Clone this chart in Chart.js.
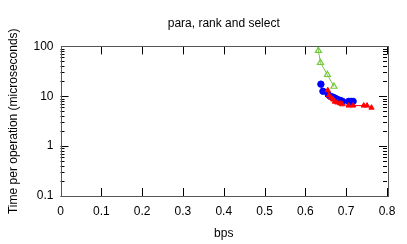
<!DOCTYPE html>
<html>
<head>
<meta charset="utf-8">
<script src="https://cdn.jsdelivr.net/npm/chart.js@4"></script>
<style>
  html, body { margin: 0; padding: 0; background: #fff; }
  #wrap { width: 407px; height: 244px; }
</style>
</head>
<body>
<div id="wrap"><canvas id="chart" width="407" height="244"></canvas></div>
<script>
// values
const xTicks = [0, 0.1, 0.2, 0.3, 0.4, 0.5, 0.6, 0.7, 0.8];
const yTicks = [0.1, 1, 10, 100];

const greenX = [0.629, 0.632, 0.637, 0.654, 0.670];
const greenY = [140, 82, 47, 27, 15.7];

const blueX = [0.638, 0.643, 0.656, 0.661, 0.666, 0.670, 0.674, 0.677, 0.682, 0.686, 0.691, 0.706, 0.712, 0.717];
const blueY = [17.5, 12.6, 10.8, 10.0, 9.7, 9.4, 9.0, 8.7, 8.4, 8.2, 7.9, 7.9, 7.9, 7.9];

const redX = [0.655, 0.658, 0.663, 0.668, 0.672, 0.678, 0.685, 0.690, 0.706, 0.717, 0.743, 0.751, 0.762];
const redY = [13.2, 10.4, 9.4, 8.6, 7.8, 7.5, 7.2, 6.9, 6.5, 6.5, 6.5, 6.5, 5.9];

const font = { family: "'Liberation Sans', Arial, sans-serif", size: 12 };

function toPoints(xs, ys) {
  return xs.map((x, i) => ({ x: x, y: ys[i] }));
}

// gnuplot style frame with inward ticks, title centred over the plot
const frame = {
  id: "frame",
  afterLayout(chart) {
    const t = chart.titleBlock;
    if (t) {
      t.left = chart.chartArea.left;
      t.right = chart.chartArea.right;
      t.width = t.right - t.left;
    }
  },
  afterDatasetsDraw(chart) {
    const { ctx, chartArea: a, scales } = chart;
    ctx.save();
    ctx.strokeStyle = "#000";
    ctx.lineWidth = 1;
    ctx.beginPath();
    xTicks.forEach((v) => {
      const px = Math.round(scales.x.getPixelForValue(v)) + 0.5;
      ctx.moveTo(px, a.bottom);
      ctx.lineTo(px, a.bottom - 8);
      ctx.moveTo(px, a.top);
      ctx.lineTo(px, a.top + 8);
    });
    for (let d = 0.1; d < 100; d *= 10) {
      for (let m = 1; m < 10; m++) {
        const v = d * m;
        const len = m === 1 ? 8 : 4;
        const py = Math.round(scales.y.getPixelForValue(v)) + 0.5;
        ctx.moveTo(a.left, py);
        ctx.lineTo(a.left + len, py);
        ctx.moveTo(a.right, py);
        ctx.lineTo(a.right - len, py);
      }
    }
    ctx.stroke();
    ctx.strokeStyle = "#555";
    ctx.strokeRect(Math.round(a.left) + 0.5, Math.round(a.top) + 0.5,
      Math.round(a.right - a.left), Math.round(a.bottom - a.top));
    ctx.restore();
  },
};

new Chart(document.getElementById("chart").getContext("2d"), {
  type: "scatter",
  data: {
    datasets: [
      {
        data: toPoints(greenX, greenY),
        showLine: true,
        borderColor: "#74c83c",
        backgroundColor: "rgba(0,0,0,0)",
        borderWidth: 1,
        pointStyle: "triangle",
        pointRadius: 3.5,
        pointBorderWidth: 1.2,
      },
      {
        data: toPoints(redX, redY),
        showLine: true,
        borderColor: "#ff0000",
        backgroundColor: "#ff0000",
        borderWidth: 1,
        pointStyle: "triangle",
        pointRadius: 3,
      },
      {
        data: toPoints(blueX, blueY),
        showLine: true,
        borderColor: "#0000ff",
        backgroundColor: "#0000ff",
        borderWidth: 1,
        pointStyle: "circle",
        pointRadius: 3.2,
      },
    ],
  },
  options: {
    responsive: false,
    animation: false,
    layout: { padding: { left: 0, right: 20, top: 0, bottom: 0 } },
    scales: {
      x: {
        type: "linear",
        min: 0,
        max: 0.8,
        afterFit: (s) => { s.height = 48; },
        afterBuildTicks: (s) => { s.ticks = xTicks.map((v) => ({ value: v })); },
        grid: { display: false, drawTicks: false },
        border: { display: false },
        ticks: {
          color: "#000",
          font: font,
          padding: 8,
          maxRotation: 0,
          callback: (v) => String(+Number(v).toFixed(1)),
        },
        title: { display: true, text: "bps", color: "#000", font: font, padding: { top: 3, bottom: 3 } },
      },
      y: {
        type: "logarithmic",
        min: 0.1,
        max: 100,
        afterFit: (s) => { s.width = 60.5; },
        afterBuildTicks: (s) => { s.ticks = yTicks.map((v) => ({ value: v })); },
        grid: { display: false, drawTicks: false },
        border: { display: false },
        ticks: {
          color: "#000",
          font: font,
          padding: 7,
          callback: (v) => String(v),
        },
        title: {
          display: true,
          text: "Time per operation (microseconds)",
          color: "#000",
          font: font,
          padding: { top: 6, bottom: 0 },
        },
      },
    },
    plugins: {
      legend: { display: false },
      tooltip: { enabled: false },
      title: {
        display: true,
        text: "para, rank and select",
        color: "#000",
        font: { family: font.family, size: 12, weight: "normal" },
        padding: { top: 16, bottom: 16 },
      },
    },
  },
  plugins: [frame],
});
</script>
</body>
</html>
